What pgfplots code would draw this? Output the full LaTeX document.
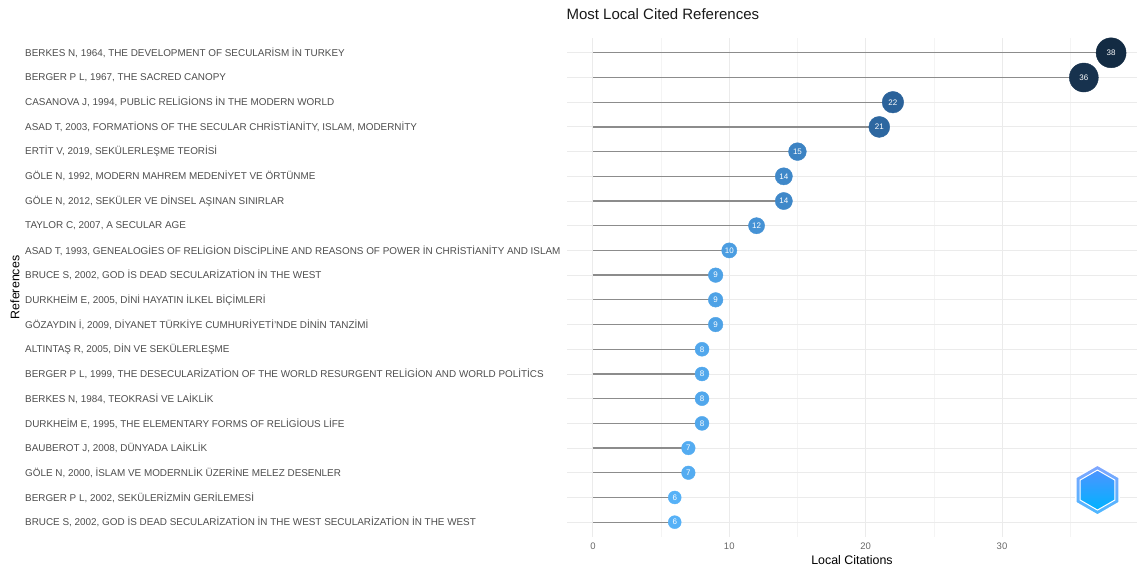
\documentclass[border=0pt]{standalone}
\usepackage{fontspec}
\setmainfont{Liberation Sans}
\usepackage{pgfplots}
\pgfplotsset{compat=1.18}
\usepackage{pgfplotstable}
\usetikzlibrary{shapes.geometric}
\definecolor{gridmaj}{HTML}{EBEBEB}
\definecolor{gridmin}{HTML}{F4F4F4}
\definecolor{txtgray}{HTML}{4D4D4D}
\definecolor{combgray}{HTML}{8C8C8C}
\definecolor{c6}{RGB}{86,177,247}
\definecolor{c7}{RGB}{84,172,241}
\definecolor{c8}{RGB}{81,167,236}
\definecolor{c9}{RGB}{78,162,230}
\definecolor{c10}{RGB}{75,157,225}
\definecolor{c12}{RGB}{69,146,213}
\definecolor{c14}{RGB}{63,136,201}
\definecolor{c15}{RGB}{60,131,195}
\definecolor{c21}{RGB}{45,103,160}
\definecolor{c22}{RGB}{43,98,154}
\definecolor{c36}{RGB}{23,50,78}
\definecolor{c38}{RGB}{19,43,67}
\pgfplotsset{/pgf/number format/assume math mode=true}
\pgfplotsset{
  lolli/.style 2 args={only marks, mark=*, mark size=#1pt,
    mark options={draw=#2, fill=#2}, color=#2,
    point meta=x, nodes near coords,
    every node near coord/.append style={anchor=center, text=white,
      font=\fontsize{8}{8}\selectfont, inner sep=0pt}},
}

\pgfplotstableread{
y v
1 6
2 6
3 7
4 7
5 8
6 8
7 8
8 8
9 9
10 9
11 9
12 10
13 12
14 14
15 14
16 15
17 21
18 22
19 36
20 38
}\refdata

\begin{document}
\begin{tikzpicture}[x=1pt,y=1pt]
\path[use as bounding box] (0,0) rectangle (1137,569);
\begin{axis}[
  at={(567pt,32pt)}, anchor=south west,
  scale only axis, width=570pt, height=499pt,
  xmin=-1.9, xmax=39.9, ymin=0.4, ymax=20.6,
  clip=false,
  axis line style={draw=none},
  tick style={draw=none},
  xtick={0,10,20,30},
  minor xtick={5,15,25,35},
  ytick={1,...,20},
  yticklabels={
    {BRUCE S, 2002, GOD İS DEAD SECULARİZATİON İN THE WEST SECULARİZATİON İN THE WEST},
    {BERGER P L, 2002, SEKÜLERİZMİN GERİLEMESİ},
    {GÖLE N, 2000, İSLAM VE MODERNLİK ÜZERİNE MELEZ DESENLER},
    {BAUBEROT J, 2008, DÜNYADA LAİKLİK},
    {DURKHEİM E, 1995, THE ELEMENTARY FORMS OF RELİGİOUS LİFE},
    {BERKES N, 1984, TEOKRASİ VE LAİKLİK},
    {BERGER P L, 1999, THE DESECULARİZATİON OF THE WORLD RESURGENT RELİGİON AND WORLD POLİTİCS},
    {ALTINTAŞ R, 2005, DİN VE SEKÜLERLEŞME},
    {GÖZAYDIN İ, 2009, DİYANET TÜRKİYE CUMHURİYETİ'NDE DİNİN TANZİMİ},
    {DURKHEİM E, 2005, DİNİ HAYATIN İLKEL BİÇİMLERİ},
    {BRUCE S, 2002, GOD İS DEAD SECULARİZATİON İN THE WEST},
    {ASAD T, 1993, GENEALOGİES OF RELİGİON DİSCİPLİNE AND REASONS OF POWER İN CHRİSTİANİTY AND ISLAM},
    {TAYLOR C, 2007, A SECULAR AGE},
    {GÖLE N, 2012, SEKÜLER VE DİNSEL AŞINAN SINIRLAR},
    {GÖLE N, 1992, MODERN MAHREM MEDENİYET VE ÖRTÜNME},
    {ERTİT V, 2019, SEKÜLERLEŞME TEORİSİ},
    {ASAD T, 2003, FORMATİONS OF THE SECULAR CHRİSTİANİTY, ISLAM, MODERNİTY},
    {CASANOVA J, 1994, PUBLİC RELİGİONS İN THE MODERN WORLD},
    {BERGER P L, 1967, THE SACRED CANOPY},
    {BERKES N, 1964, THE DEVELOPMENT OF SECULARİSM İN TURKEY}
  },
  yticklabel style={anchor=west, inner sep=0pt, xshift=-542pt,
    font=\fontsize{9.9}{10}\selectfont, text=txtgray},
  xticklabel style={anchor=center, yshift=-9pt,
    font=\fontsize{9.5}{10}\selectfont, text=txtgray!85},
  xmajorgrids, ymajorgrids, xminorgrids,
  major grid style={gridmaj, line width=0.9pt},
  minor grid style={gridmin, line width=0.6pt},
  title={Most Local Cited References},
  title style={at={(0,1)}, anchor=base west, yshift=12.5pt, xshift=-4pt,
    font=\fontsize{15}{16}\selectfont, text=black!90},
  xlabel={Local Citations},
  xlabel style={at={(axis description cs:0.5,0)}, anchor=center, yshift=-23pt,
    font=\fontsize{12.4}{13}\selectfont},
  ylabel={References},
  ylabel style={at={(axis description cs:-0.9684,0.5)}, anchor=center, rotate=0,
    font=\fontsize{12.4}{13}\selectfont},
]
\addplot[xcomb, no marks, draw=combgray, line width=1.3pt] table[x=v, y=y] {\refdata};
\addplot[lolli={15.0}{c38}]  coordinates {(38,20)};
\addplot[lolli={14.5}{c36}]  coordinates {(36,19)};
\addplot[lolli={10.8}{c22}]  coordinates {(22,18)};
\addplot[lolli={10.5}{c21}]  coordinates {(21,17)};
\addplot[lolli={8.9}{c15}]   coordinates {(15,16)};
\addplot[lolli={8.6}{c14}]   coordinates {(14,15) (14,14)};
\addplot[lolli={8.1}{c12}]   coordinates {(12,13)};
\addplot[lolli={7.6}{c10}]   coordinates {(10,12)};
\addplot[lolli={7.3}{c9}]    coordinates {(9,11) (9,10) (9,9)};
\addplot[lolli={7.0}{c8}]    coordinates {(8,8) (8,7) (8,6) (8,5)};
\addplot[lolli={6.8}{c7}]    coordinates {(7,4) (7,3)};
\addplot[lolli={6.5}{c6}]    coordinates {(6,2) (6,1)};
\node[regular polygon, regular polygon sides=6, shape border rotate=30,
  minimum size=50pt, inner sep=0pt, draw=white, line width=1.5pt,
  top color=cyan!30!blue!50, bottom color=cyan!60!blue!70]
  at (axis cs:37.0,2.3) {};
\node[regular polygon, regular polygon sides=6, shape border rotate=30,
  minimum size=40pt, inner sep=0pt, draw=white, line width=1pt,
  top color=cyan!40!blue!70, bottom color=cyan!70!blue]
  at (axis cs:37.0,2.3) {};
\end{axis}
\end{tikzpicture}
\end{document}
